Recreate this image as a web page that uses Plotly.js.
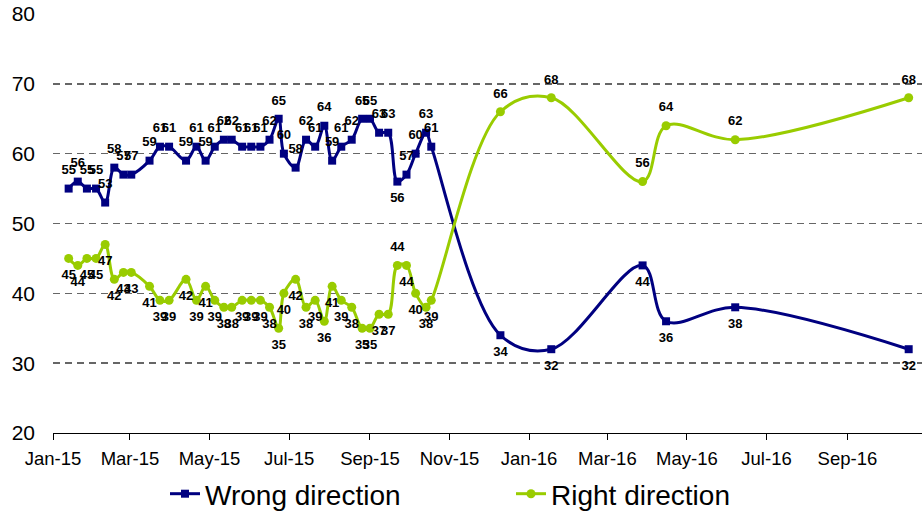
<!DOCTYPE html>
<html>
<head>
<meta charset="utf-8">
<script src="https://cdn.plot.ly/plotly-3.0.1.min.js"></script>
<style>
  html, body { margin: 0; padding: 0; background: #fff; }
  #chart { width: 922px; height: 512px; }
</style>
</head>
<body>
<div id="chart"></div>
<script>
// Survey dates
const surveyDates = [
  '2015-01-13','2015-01-20','2015-01-27','2015-02-03','2015-02-10','2015-02-17','2015-02-24','2015-03-02',
  '2015-03-16','2015-03-24','2015-03-31','2015-04-13','2015-04-21','2015-04-28','2015-05-05','2015-05-12',
  '2015-05-18','2015-05-26','2015-06-02','2015-06-09','2015-06-16','2015-06-23','2015-06-27','2015-07-06',
  '2015-07-14','2015-07-21','2015-07-28','2015-08-03','2015-08-10','2015-08-18','2015-08-26','2015-09-01',
  '2015-09-08','2015-09-15','2015-09-22','2015-09-29','2015-10-06','2015-10-14','2015-10-18',
  '2015-12-10','2016-01-18','2016-03-28','2016-04-15','2016-06-07','2016-10-18'
];

const wrongDirection = [
  55,56,55,55,53,58,57,57,59,61,61,59,61,59,61,62,62,61,61,61,62,65,60,58,62,61,64,59,61,62,
  65,65,63,63,56,57,60,63,61,
  34,32,44,36,38,32
];

const rightDirection = [
  45,44,45,45,47,42,43,43,41,39,39,42,39,41,39,38,38,39,39,39,38,35,40,42,38,39,36,41,39,38,
  35,35,37,37,44,44,40,38,39,
  66,68,56,64,62,68
];

const seriesNames = ['Wrong direction', 'Right direction'];
const yTicks = [20, 30, 40, 50, 60, 70, 80];

// label placement (above / below the point)
const wrongPos = wrongDirection.map((v, i) => {
  if (i === 34) return 'bottom center';
  if (i >= 39) return 'bottom center';
  return 'top center';
});
const rightPos = rightDirection.map((v, i) => {
  if (i === 34) return 'top center';
  if (i >= 39) return 'top center';
  return 'bottom center';
});

const NAVY = '#000080';
const GREEN = '#99CC00';
const FONT = 'Liberation Sans, Arial, sans-serif';

const labelFont = { family: FONT, size: 13, color: '#000', weight: 'bold' };

const traces = [
  {
    x: surveyDates, y: wrongDirection, name: seriesNames[0],
    type: 'scatter', mode: 'lines+markers',
    line: { color: NAVY, width: 3, shape: 'spline', smoothing: 1 },
    marker: { symbol: 'square', size: 8, color: NAVY },
    hoverinfo: 'x+y'
  },
  {
    x: surveyDates, y: rightDirection, name: seriesNames[1],
    type: 'scatter', mode: 'lines+markers',
    line: { color: GREEN, width: 3, shape: 'spline', smoothing: 1 },
    marker: { symbol: 'circle', size: 9, color: GREEN },
    hoverinfo: 'x+y'
  },
  {
    x: surveyDates, y: wrongDirection, text: wrongDirection.map(String),
    type: 'scatter', mode: 'markers+text', showlegend: false, hoverinfo: 'skip',
    marker: { size: 16, color: 'rgba(0,0,0,0)' },
    textposition: wrongPos, textfont: labelFont, cliponaxis: false
  },
  {
    x: surveyDates, y: rightDirection, text: rightDirection.map(String),
    type: 'scatter', mode: 'markers+text', showlegend: false, hoverinfo: 'skip',
    marker: { size: 16, color: 'rgba(0,0,0,0)' },
    textposition: rightPos, textfont: labelFont, cliponaxis: false
  }
];

const layout = {
  width: 922, height: 512,
  margin: { l: 53, r: 0, t: 14, b: 79 },
  paper_bgcolor: '#fff', plot_bgcolor: '#fff',
  font: { family: FONT, color: '#000' },
  showlegend: true,
  xaxis: {
    type: 'date',
    range: ['2015-01-01', '2016-10-28 05:00'],
    tick0: '2015-01-01', dtick: 'M2', tickformat: '%b-%y',
    showgrid: false, zeroline: false,
    showline: true, linecolor: '#000', linewidth: 1,
    ticks: 'outside', ticklen: 6, tickcolor: '#000', tickwidth: 1,
    ticklabelstandoff: 3,
    tickfont: { family: FONT, size: 18.5, color: '#000' },
    fixedrange: true
  },
  yaxis: {
    range: [20, 80], tickvals: yTicks, ticktext: yTicks.map(String),
    showgrid: true, gridcolor: '#666', gridwidth: 1.4, griddash: '7px,5px',
    zeroline: false, showline: false, ticks: '',
    ticklabelstandoff: 17,
    tickfont: { family: FONT, size: 21, color: '#000' },
    fixedrange: true
  },
  legend: {
    orientation: 'h',
    xref: 'container', yref: 'container',
    x: 165 / 922, xanchor: 'left',
    y: 18 / 512, yanchor: 'middle',
    entrywidth: 301, entrywidthmode: 'pixels',
    font: { family: FONT, size: 28, color: '#000' },
    bgcolor: 'rgba(0,0,0,0)'
  }
};

Plotly.newPlot('chart', traces, layout, { displayModeBar: false, staticPlot: true });
</script>
</body>
</html>
